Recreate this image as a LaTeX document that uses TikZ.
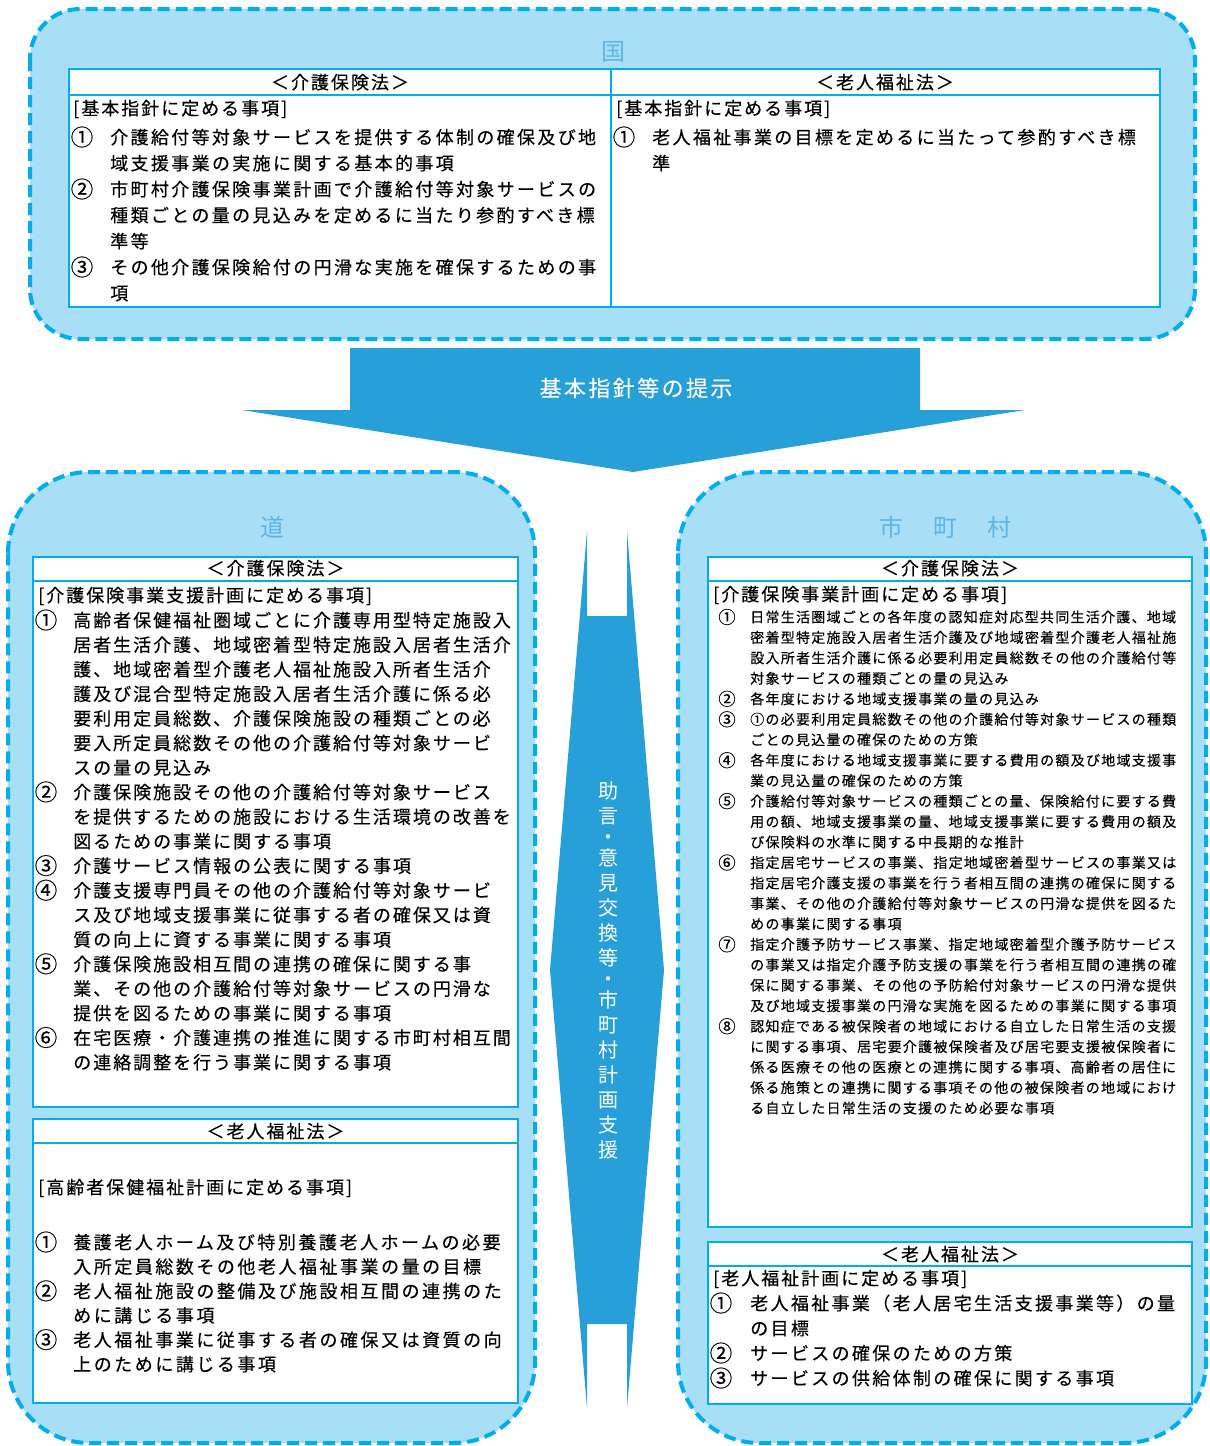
\documentclass[tikz,border=0pt]{standalone}
\usepackage{fontspec}
\setmainfont{Noto Sans CJK JP}
\newfontfamily\jpnine[LetterSpace=9,FakeBold=0.3]{Noto Sans CJK JP}
\newfontfamily\jpeleven[LetterSpace=11,FakeBold=0.3]{Noto Sans CJK JP}
\newfontfamily\jpthirteen[LetterSpace=13,FakeBold=0.3]{Noto Sans CJK JP}
\newfontfamily\jpfourteen[LetterSpace=14,FakeBold=0.3]{Noto Sans CJK JP}
\newfontfamily\jpnum[FakeBold=0.2]{Noto Sans CJK JP}
\newfontfamily\jpplain{Noto Sans CJK JP}
\definecolor{outerfill}{HTML}{A8DFF6}
\definecolor{dashcol}{HTML}{00AEEF}
\definecolor{arrowcol}{HTML}{279FD9}
\definecolor{titlecol}{HTML}{5FB6E4}
\tikzset{
  outerbox/.style={fill=outerfill, draw=dashcol, line width=3pt, dash pattern=on 9pt off 4.5pt},
  innerbox/.style={fill=white, draw=dashcol, line width=2pt},
  rule/.style={draw=dashcol, line width=2pt},
  tL/.style={font=\jpeleven\fontsize{13.5pt}{16pt}\selectfont, inner sep=0pt},
  tS/.style={font=\jpnine\fontsize{10.5pt}{12pt}\selectfont, inner sep=0pt},
  tB/.style={font=\jpthirteen\fontsize{13.5pt}{16pt}\selectfont, inner sep=0pt},
  tW/.style={font=\jpfourteen\fontsize{13.5pt}{16pt}\selectfont, inner sep=0pt},
  numL/.style={font=\jpnum\fontsize{17pt}{18pt}\selectfont, inner sep=0pt, anchor=center},
  numS/.style={font=\jpnum\fontsize{13pt}{14pt}\selectfont, inner sep=0pt, anchor=center},
  head/.style={tL, anchor=base},
  lefttext/.style={anchor=base west},
  titletext/.style={font=\jpplain\fontsize{18pt}{20pt}\selectfont, text=titlecol, inner sep=0pt},
  arrowtext/.style={font=\jpeleven\fontsize{16.5pt}{20pt}\selectfont, text=white, inner sep=0pt},
  vtext/.style={font=\jpplain\fontsize{15pt}{18.75pt}\selectfont, text=white, inner sep=0pt, align=center}
}
\newcommand\jlines[6]{\foreach \jl [count=\jk] in {#6}{\node[#5, anchor=base west] (#1-\jk) at (#2,{#3+(\jk-1)*#4}) {\jl};}}
\begin{document}
\begin{tikzpicture}[x=0.75pt,y=-0.75pt]
\useasboundingbox (0,0) rectangle (1210,1446);

% ---------------- top: 国 ----------------
\draw[outerbox, rounded corners=37.5pt] (30,9) rectangle (1195,339);
\node[titletext] (kuni) at (613,52) {国};
\draw[innerbox] (69,69) rectangle (1160,307);
\draw[rule] (69,95) -- (1160,95) (611,69) -- (611,307);
\node[head] (th1) at (340,89) {＜介護保険法＞};
\node[head] (th2) at (885,89) {＜老人福祉法＞};
\node[tL, lefttext] (tb1) at (73,115) {[基本指針に定める事項]};
\node[tL, lefttext] (tb2) at (616,115) {[基本指針に定める事項]};
\node[numL] (tn1) at (82,137) {①};
\node[numL] (tn2) at (82,189) {②};
\node[numL] (tn3) at (82,267) {③};
\jlines{ta}{110}{144}{26}{tB}{介護給付等対象サービスを提供する体制の確保及び地,域支援事業の実施に関する基本的事項,市町村介護保険事業計画で介護給付等対象サービスの,種類ごとの量の見込みを定めるに当たり参酌すべき標,準等,その他介護保険給付の円滑な実施を確保するための事,項}
\node[numL] (tn4) at (624,137) {①};
\jlines{tb}{652}{144}{26}{tB}{老人福祉事業の目標を定めるに当たって参酌すべき標,準}

% ---------------- down arrow ----------------
\fill[arrowcol] (350,348) -- (920,348) -- (920,410) -- (1025,410) -- (633,472) -- (242,410) -- (350,410) -- cycle;
\node[arrowtext] (arrowlabel) at (636,388) {基本指針等の提示};

% ---------------- left: 道 ----------------
\draw[outerbox, rounded corners=61pt] (8,472) rectangle (535,1443);
\node[titletext] (dou) at (272,527) {道};
\draw[innerbox] (33,557) rectangle (518,1107);
\draw[rule] (33,581) -- (518,581);
\node[head] (lh1) at (275.5,575) {＜介護保険法＞};
\node[tL, lefttext] (lb1) at (38,602) {[介護保険事業支援計画に定める事項]};
\node[numL] (ln1) at (46,620) {①};
\node[numL] (ln2) at (46,791.9) {②};
\node[numL] (ln3) at (46,865.6) {③};
\node[numL] (ln4) at (46,890.2) {④};
\node[numL] (ln5) at (46,963.8) {⑤};
\node[numL] (ln6) at (46,1037.5) {⑥};
\jlines{la}{73}{627}{24.56}{tL}{高齢者保健福祉圏域ごとに介護専用型特定施設入,居者生活介護、地域密着型特定施設入居者生活介,護、地域密着型介護老人福祉施設入所者生活介,護及び混合型特定施設入居者生活介護に係る必,要利用定員総数、介護保険施設の種類ごとの必,要入所定員総数その他の介護給付等対象サービ,スの量の見込み,介護保険施設その他の介護給付等対象サービス,を提供するための施設における生活環境の改善を,図るための事業に関する事項,介護サービス情報の公表に関する事項,介護支援専門員その他の介護給付等対象サービ,ス及び地域支援事業に従事する者の確保又は資,質の向上に資する事業に関する事項,介護保険施設相互間の連携の確保に関する事,業、その他の介護給付等対象サービスの円滑な,提供を図るための事業に関する事項,在宅医療・介護連携の推進に関する市町村相互間,の連絡調整を行う事業に関する事項}

\draw[innerbox] (33,1119) rectangle (518,1403);
\draw[rule] (33,1143) -- (518,1143);
\node[head] (lh2) at (275.5,1138) {＜老人福祉法＞};
\node[tL, lefttext] (lb2) at (38,1194) {[高齢者保健福祉計画に定める事項]};
\node[numL] (lm1) at (46,1242) {①};
\node[numL] (lm2) at (46,1290.8) {②};
\node[numL] (lm3) at (46,1339.6) {③};
\jlines{lc}{73}{1249}{24.4}{tW}{養護老人ホーム及び特別養護老人ホームの必要,入所定員総数その他老人福祉事業の量の目標,老人福祉施設の整備及び施設相互間の連携のた,めに講じる事項,老人福祉事業に従事する者の確保又は資質の向,上のために講じる事項}

% ---------------- middle double arrow ----------------
\fill[arrowcol] (587,531) -- (587,616) -- (627,616) -- (627,531) -- (664,970) -- (627,1408) -- (627,1324) -- (587,1324) -- (587,1408) -- (550,970) -- cycle;
\node[vtext] (vlabel) at (608,970) {助\\言\\[-3pt]・\\[-3pt]意\\見\\交\\換\\等\\[-3pt]・\\[-3pt]市\\町\\村\\計\\画\\支\\援};

% ---------------- right: 市町村 ----------------
\draw[outerbox, rounded corners=61pt] (678,472) rectangle (1206,1443);
\node[titletext] (shi) at (945,527) {市\hspace{22.5pt}町\hspace{22.5pt}村};
\draw[innerbox] (708,557) rectangle (1192,1227);
\draw[rule] (708,581) -- (1192,581);
\node[head] (rh1) at (950,575) {＜介護保険法＞};
\node[tL, lefttext] (rb1) at (713,601) {[介護保険事業計画に定める事項]};
\node[numS] (rn1) at (727,617) {①};
\node[numS] (rn2) at (727,698.8) {②};
\node[numS] (rn3) at (727,719.3) {③};
\node[numS] (rn4) at (727,760.2) {④};
\node[numS] (rn5) at (727,801.1) {⑤};
\node[numS] (rn6) at (727,862.5) {⑥};
\node[numS] (rn7) at (727,944.3) {⑦};
\node[numS] (rn8) at (727,1026.2) {⑧};
\jlines{ra}{750}{622.3}{20.46}{tS}{日常生活圏域ごとの各年度の認知症対応型共同生活介護、地域,密着型特定施設入居者生活介護及び地域密着型介護老人福祉施,設入所者生活介護に係る必要利用定員総数その他の介護給付等,対象サービスの種類ごとの量の見込み,各年度における地域支援事業の量の見込み,①の必要利用定員総数その他の介護給付等対象サービスの種類,ごとの見込量の確保のための方策,各年度における地域支援事業に要する費用の額及び地域支援事,業の見込量の確保のための方策,介護給付等対象サービスの種類ごとの量、保険給付に要する費,用の額、地域支援事業の量、地域支援事業に要する費用の額及,び保険料の水準に関する中長期的な推計,指定居宅サービスの事業、指定地域密着型サービスの事業又は,指定居宅介護支援の事業を行う者相互間の連携の確保に関する,事業、その他の介護給付等対象サービスの円滑な提供を図るた,めの事業に関する事項,指定介護予防サービス事業、指定地域密着型介護予防サービス,の事業又は指定介護予防支援の事業を行う者相互間の連携の確,保に関する事業、その他の予防給付対象サービスの円滑な提供,及び地域支援事業の円滑な実施を図るための事業に関する事項,認知症である被保険者の地域における自立した日常生活の支援,に関する事項、居宅要介護被保険者及び居宅要支援被保険者に,係る医療その他の医療との連携に関する事項、高齢者の居住に,係る施策との連携に関する事項その他の被保険者の地域におけ,る自立した日常生活の支援のため必要な事項}

\draw[innerbox] (708,1242) rectangle (1192,1404);
\draw[rule] (708,1266) -- (1192,1266);
\node[head] (rh2) at (950,1261) {＜老人福祉法＞};
\node[tL, lefttext] (rb2) at (713,1285) {[老人福祉計画に定める事項]};
\node[numL] (rm1) at (721,1303) {①};
\node[numL] (rm2) at (721,1353) {②};
\node[numL] (rm3) at (721,1378) {③};
\jlines{rc}{750}{1310}{25}{tB}{老人福祉事業（老人居宅生活支援事業等）の量,の目標,サービスの確保のための方策,サービスの供給体制の確保に関する事項}
\end{tikzpicture}
\end{document}
